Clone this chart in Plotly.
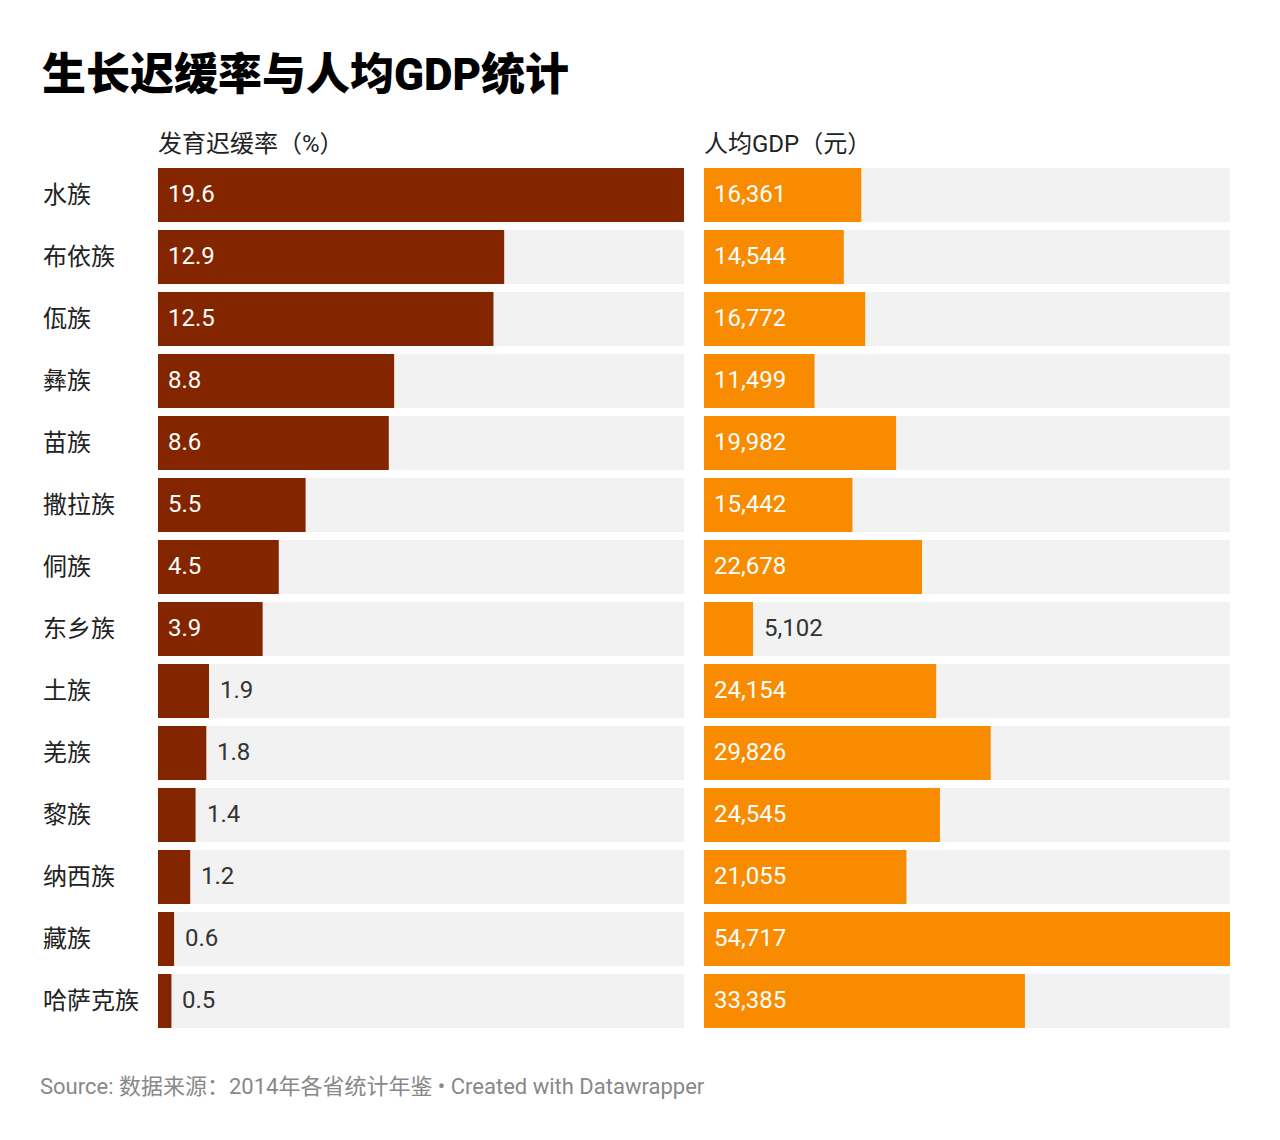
import plotly.graph_objects as go

categories = ["水族", "布依族", "佤族", "彝族", "苗族", "撒拉族", "侗族", "东乡族",
              "土族", "羌族", "黎族", "纳西族", "藏族", "哈萨克族"]
stunting = [19.6, 12.9, 12.5, 8.8, 8.6, 5.5, 4.5, 3.9, 1.9, 1.8, 1.4, 1.2, 0.6, 0.5]
gdp = [16361, 14544, 16772, 11499, 19982, 15442, 22678, 5102, 24154, 29826,
       24545, 21055, 54717, 33385]

title = "生长迟缓率与人均GDP统计"
head_left = "发育迟缓率（%）"
head_right = "人均GDP（元）"
source = "Source: 数据来源：2014年各省统计年鉴 • Created with Datawrapper"

W, H = 1280, 1140
OFF = 8  # page body margin
FONT = "Roboto, Noto Sans CJK SC, sans-serif"
C_LEFT = "#832600"
C_RIGHT = "#F98B00"
C_BG = "#F2F2F2"

maxL = max(stunting)
maxR = max(gdp)


def px_x(x):
    return (x - OFF) / W


def px_y(y):
    return 1 - (y - OFF) / H


fig = go.Figure()
fig.add_trace(go.Bar(y=categories, x=[maxL] * len(categories), orientation="h",
                     marker=dict(color=C_BG, line=dict(width=0)), xaxis="x", yaxis="y",
                     hoverinfo="skip", showlegend=False))
fig.add_trace(go.Bar(y=categories, x=[maxR] * len(categories), orientation="h",
                     marker=dict(color=C_BG, line=dict(width=0)), xaxis="x2", yaxis="y",
                     hoverinfo="skip", showlegend=False))
fig.add_trace(go.Bar(y=categories, x=stunting, orientation="h",
                     marker=dict(color=C_LEFT, line=dict(width=0)), xaxis="x", yaxis="y",
                     showlegend=False))
fig.add_trace(go.Bar(y=categories, x=gdp, orientation="h",
                     marker=dict(color=C_RIGHT, line=dict(width=0)), xaxis="x2", yaxis="y",
                     showlegend=False))

LBL = 24
annotations = []
for cat, v in zip(categories, stunting):
    inside = v / maxL > 0.15
    annotations.append(dict(x=0 if inside else v, y=cat, xref="x", yref="y",
                            text=f"{v:.1f}", showarrow=False, xanchor="left",
                            xshift=8 if inside else 9, yshift=1,
                            font=dict(family=FONT, size=LBL, color="white" if inside else "#333333")))
for cat, v in zip(categories, gdp):
    inside = v / maxR > 0.15
    annotations.append(dict(x=0 if inside else v, y=cat, xref="x2", yref="y",
                            text=f"{v:,}", showarrow=False, xanchor="left",
                            xshift=8 if inside else 9, yshift=1,
                            font=dict(family=FONT, size=LBL, color="white" if inside else "#333333")))
for cat in categories:
    annotations.append(dict(x=px_x(41), y=cat, xref="paper", yref="y", text=cat,
                            showarrow=False, xanchor="left",
                            font=dict(family=FONT, size=24, color="#222222")))

annotations += [
    dict(x=px_x(40), y=px_y(75), xref="paper", yref="paper", text=title,
         showarrow=False, xanchor="left", yanchor="middle",
         font=dict(family=FONT, size=44, color="#000000", weight=900)),
    dict(x=px_x(156), y=px_y(144), xref="paper", yref="paper", text=head_left,
         showarrow=False, xanchor="left", yanchor="middle",
         font=dict(family=FONT, size=24, color="#222222")),
    dict(x=px_x(702), y=px_y(144), xref="paper", yref="paper", text=head_right,
         showarrow=False, xanchor="left", yanchor="middle",
         font=dict(family=FONT, size=24, color="#222222")),
    dict(x=px_x(38), y=px_y(1086), xref="paper", yref="paper", text=source,
         showarrow=False, xanchor="left", yanchor="middle",
         font=dict(family=FONT, size=22, color="#888888")),
]

fig.update_layout(
    width=W, height=H,
    margin=dict(l=0, r=0, t=0, b=0),
    paper_bgcolor="white", plot_bgcolor="white",
    barmode="overlay", bargap=8 / 62,
    xaxis=dict(domain=[px_x(158), px_x(684)], range=[0, maxL], visible=False, fixedrange=True),
    xaxis2=dict(domain=[px_x(704), px_x(1230)], range=[0, maxR], visible=False, fixedrange=True,
                anchor="y"),
    yaxis=dict(domain=[px_y(1032), px_y(164)], autorange="reversed", visible=False,
               fixedrange=True),
    annotations=annotations,
)

fig.write_html("out.html")
